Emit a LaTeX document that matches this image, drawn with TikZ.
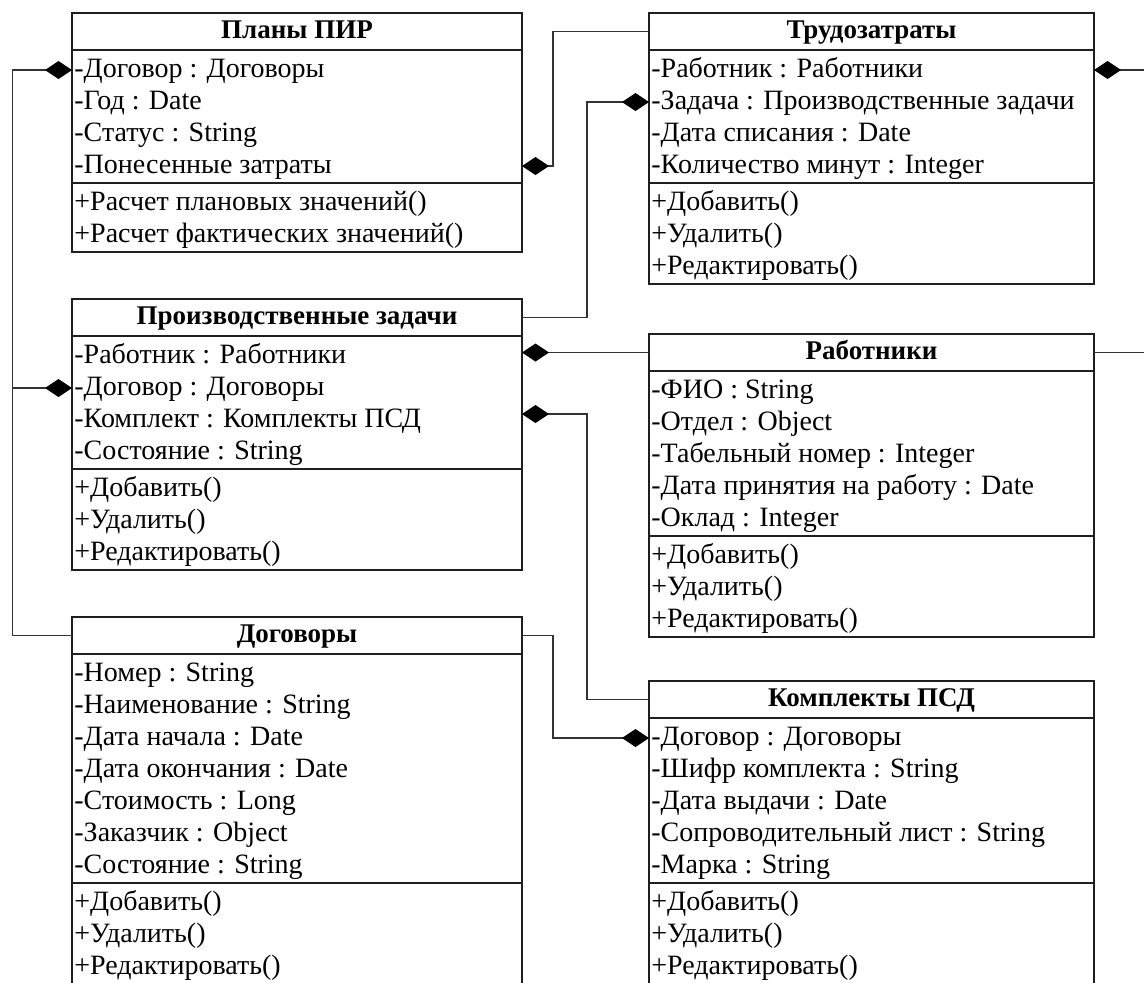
\documentclass[tikz,border=0pt]{standalone}
\usepackage{fontspec}
\setmainfont{Liberation Serif}
\usetikzlibrary{arrows.meta,calc}

% One UML class: #1 name, #2 left x, #3 top y, #4 width, #5 title,
% #6 attributes, #7 operations (all lengths in pixel units of the picture)
\newcommand\umlclass[7]{%
  \node[classtitle] (#1-t) at ({#2+#4/2},{#3+18.5}) {#5};
  \foreach \txt [count=\i] in {#6} {
    \node[member] (#1-a\i) at ({#2+2},{#3+37+20+32*(\i-1)}) {\txt};
    \xdef\attrcount{\i}}
  \pgfmathsetmacro\opstop{#3+37+32*\attrcount+5}
  \foreach \txt [count=\i] in {#7} {
    \node[member] (#1-o\i) at ({#2+2},{\opstop+20+32*(\i-1)}) {\txt};
    \xdef\opcount{\i}}
  \pgfmathsetmacro\boxw{#4*0.5}
  \pgfmathsetmacro\boxh{(37+32*\attrcount+5+32*\opcount+5)*0.5}
  \node[classframe, minimum width=\boxw pt, minimum height=\boxh pt] (#1) at (#2,#3) {};
  \draw[classline] (#2,{#3+37}) -- ++(#4,0);
  \draw[classline] (#2,\opstop) -- ++(#4,0);
}

\begin{document}
\begin{tikzpicture}[x=0.5pt,y=-0.5pt,
  classframe/.style={draw=black!88, line width=0.9pt, anchor=north west,
    inner sep=0pt, outer sep=0pt},
  classline/.style={draw=black!88, line width=0.9pt},
  classtitle/.style={inner sep=0pt, text height=10pt, text depth=3pt,
    font=\fontsize{13.5pt}{16pt}\selectfont\bfseries},
  member/.style={anchor=west, inner sep=0pt, text height=10pt, text depth=3pt,
    font=\fontsize{14pt}{16pt}\selectfont},
  conn/.style={draw=black!80, line width=0.55pt},
  composite/.style={conn, -{Diamond[length=13.5pt,width=9pt,color=black]}}
]
\useasboundingbox (0,0) rectangle (1144,982);
\fill[white] (0,0) rectangle (1144,982);
\clip (0,0) rectangle (1144,982);

\umlclass{plans}{72}{13}{450}{Планы ПИР}
  {{-Договор : Договоры},{-Год : Date},{-Статус : String},{-Понесенные затраты}}
  {{+Расчет плановых значений()},{+Расчет фактических значений()}}

\umlclass{labor}{649}{13}{445}{Трудозатраты}
  {{-Работник : Работники},{-Задача : Производственные задачи},{-Дата списания : Date},{-Количество минут : Integer}}
  {{+Добавить()},{+Удалить()},{+Редактировать()}}

\umlclass{tasks}{72}{299}{450}{Производственные задачи}
  {{-Работник : Работники},{-Договор : Договоры},{-Комплект : Комплекты ПСД},{-Состояние : String}}
  {{+Добавить()},{+Удалить()},{+Редактировать()}}

\umlclass{staff}{649}{334}{445}{Работники}
  {{-ФИО : String},{-Отдел : Object},{-Табельный номер : Integer},{-Дата принятия на работу : Date},{-Оклад : Integer}}
  {{+Добавить()},{+Удалить()},{+Редактировать()}}

\umlclass{contracts}{72}{617}{450}{Договоры}
  {{-Номер : String},{-Наименование : String},{-Дата начала : Date},{-Дата окончания : Date},{-Стоимость : Long},{-Заказчик : Object},{-Состояние : String}}
  {{+Добавить()},{+Удалить()},{+Редактировать()}}

\umlclass{kits}{649}{681}{445}{Комплекты ПСД}
  {{-Договор : Договоры},{-Шифр комплекта : String},{-Дата выдачи : Date},{-Сопроводительный лист : String},{-Марка : String}}
  {{+Добавить()},{+Удалить()},{+Редактировать()}}

% vertical runs of the connectors
\coordinate (busL) at (12.5,0);
\coordinate (busA) at (553,0);
\coordinate (busB) at (587,0);
\coordinate (busR) at (1160,0);

% Договоры -> Планы ПИР, Производственные задачи
\draw[composite] (contracts-t -| contracts.west) -| (busL |- plans-a1) -- (plans-a1 -| plans.west);
\draw[composite] (busL |- tasks-a2) -- (tasks-a2 -| tasks.west);
% Трудозатраты -> Планы ПИР
\draw[composite] (labor-t -| labor.west) -| (busA |- plans-a4) -- (plans-a4 -| plans.east);
% Производственные задачи -> Трудозатраты
\draw[composite] (tasks-t -| tasks.east) -| (busB |- labor-a2) -- (labor-a2 -| labor.west);
% Работники -> Производственные задачи, Трудозатраты
\draw[composite] (staff-t -| staff.west) -- (staff-t -| tasks.east);
\draw[composite] (staff-t -| staff.east) -| (busR |- labor-a1) -- (labor-a1 -| labor.east);
% Комплекты ПСД -> Производственные задачи
\draw[composite] (kits-t -| kits.west) -| ($(busB |- tasks-a3)+(0,-6)$) -- ($(tasks-a3 -| tasks.east)+(0,-6)$);
% Договоры -> Комплекты ПСД
\draw[composite] (contracts-t -| contracts.east) -| (busA |- kits-a1) -- (kits-a1 -| kits.west);
\end{tikzpicture}
\end{document}
